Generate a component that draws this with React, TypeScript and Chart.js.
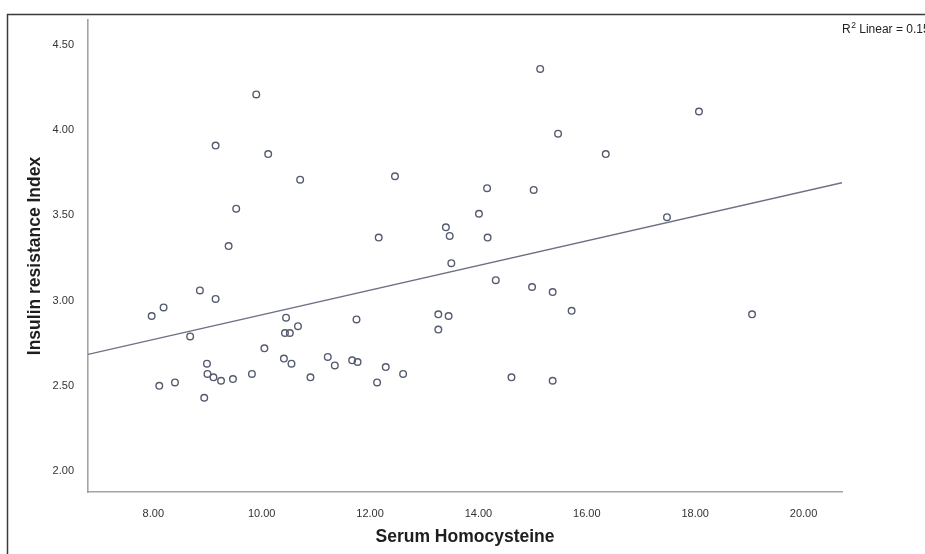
import React, { useEffect, useRef } from "react";
import { Chart, registerables } from "chart.js";

Chart.register(...registerables);

// Serum homocysteine (x) and insulin resistance index (y)
const homocysteine = [
  9.90, 9.15, 10.12, 10.71, 9.53, 9.39, 15.14, 15.47, 16.35, 12.46,
  14.16, 15.02, 14.01, 13.40, 13.47, 14.17, 12.16, 18.07, 17.48, 7.97,
  8.19, 8.86, 9.15, 8.68, 10.45, 10.67, 10.43, 10.52, 10.05, 10.41,
  10.55, 8.99, 9.00, 9.11, 9.25, 9.47, 9.82, 8.11, 8.40, 8.94,
  10.90, 13.50, 14.32, 14.99, 15.37, 15.72, 11.75, 13.26, 13.45, 13.26,
  11.22, 11.35, 11.67, 11.77, 12.29, 12.61, 12.13, 14.61, 15.37, 19.05,
];
const insulinIndex = [
  4.21, 3.91, 3.86, 3.71, 3.54, 3.32, 4.36, 3.98, 3.86, 3.73,
  3.66, 3.65, 3.51, 3.43, 3.38, 3.37, 3.37, 4.11, 3.49, 2.91,
  2.96, 3.06, 3.01, 2.79, 2.90, 2.85, 2.81, 2.81, 2.72, 2.66,
  2.63, 2.63, 2.57, 2.55, 2.53, 2.54, 2.57, 2.50, 2.52, 2.43,
  2.55, 3.22, 3.12, 3.08, 3.05, 2.94, 2.89, 2.92, 2.91, 2.83,
  2.67, 2.62, 2.65, 2.64, 2.61, 2.57, 2.52, 2.55, 2.53, 2.92,
];

// Fit line end points as drawn in the picture
const fitX = [6.795, 20.71];
const fitY = [2.685, 3.692];

const xTickValues = [8, 10, 12, 14, 16, 18, 20];
const yTickValues = [2.0, 2.5, 3.0, 3.5, 4.0, 4.5];
const xRange = [6.795, 20.71];
const yRange = [1.877, 4.647];

const xTitle = "Serum Homocysteine";
const yTitle = "Insulin resistance Index";
const r2Value = "0.15";

const FONT = "'Liberation Sans', Arial, Helvetica, sans-serif";

export default function App() {
  const canvasRef = useRef<HTMLCanvasElement | null>(null);

  useEffect(() => {
    const canvas = canvasRef.current;
    if (!canvas) return;

    const decor = {
      id: "decor",
      beforeDraw(chart: any) {
        const ctx = chart.ctx;
        ctx.save();
        ctx.fillStyle = "#ffffff";
        ctx.fillRect(0, 0, chart.width, chart.height);
        ctx.restore();
      },
      afterDraw(chart: any) {
        const ctx = chart.ctx;
        ctx.save();
        // outer frame
        ctx.strokeStyle = "#3a3a3a";
        ctx.lineWidth = 1.5;
        ctx.strokeRect(7.5, 14.5, 1200, 800);
        // R² label
        const area = chart.chartArea;
        let x = area.right;
        const y = 29.5;
        ctx.fillStyle = "#222222";
        ctx.textBaseline = "middle";
        ctx.textAlign = "left";
        ctx.font = `12px ${FONT}`;
        ctx.fillText("R", x, y);
        x += ctx.measureText("R").width;
        ctx.font = `8.5px ${FONT}`;
        ctx.fillText("2", x + 0.5, y - 4);
        x += ctx.measureText("2").width + 0.5;
        ctx.font = `12px ${FONT}`;
        ctx.fillText(" Linear = " + r2Value, x, y);
        ctx.restore();
      },
    };

    const chart = new Chart(canvas, {
      type: "scatter",
      data: {
        datasets: [
          {
            type: "line",
            label: "Fit",
            data: fitX.map((v, i) => ({ x: v, y: fitY[i] })),
            borderColor: "#6b7085",
            borderWidth: 1.3,
            pointRadius: 0,
            fill: false,
          } as any,
          {
            label: "Points",
            data: homocysteine.map((v, i) => ({ x: v, y: insulinIndex[i] })),
            pointRadius: 3.3,
            pointBorderWidth: 1.4,
            pointBorderColor: "#555b6e",
            pointBackgroundColor: "rgba(255,255,255,0)",
            showLine: false,
          },
        ],
      },
      options: {
        responsive: false,
        animation: false,
        layout: { padding: { left: 0, top: 20, right: 83, bottom: 0 } },
        plugins: {
          legend: { display: false },
          tooltip: { enabled: false },
        },
        scales: {
          x: {
            type: "linear",
            min: xRange[0],
            max: xRange[1],
            grid: { display: false },
            border: { display: true, color: "#a3a3a3", width: 1.6 },
            afterBuildTicks: (scale: any) => {
              scale.ticks = xTickValues.map((v) => ({ value: v }));
            },
            afterFit: (scale: any) => {
              scale.height = 62;
            },
            ticks: {
              padding: 7,
              color: "#333333",
              font: { size: 11, family: FONT },
              maxRotation: 0,
              callback: (v: any) => Number(v).toFixed(2),
            },
            title: {
              display: true,
              text: xTitle,
              color: "#1e1e1e",
              font: { size: 17.5, weight: "bold", family: FONT },
              padding: { top: 0, bottom: 6 },
            },
          },
          y: {
            type: "linear",
            min: yRange[0],
            max: yRange[1],
            grid: { display: false },
            border: { display: true, color: "#a3a3a3", width: 1.6 },
            afterBuildTicks: (scale: any) => {
              scale.ticks = yTickValues.map((v) => ({ value: v }));
            },
            afterFit: (scale: any) => {
              scale.width = 88;
            },
            ticks: {
              padding: 6,
              color: "#333333",
              font: { size: 11, family: FONT },
              callback: (v: any) => Number(v).toFixed(2),
            },
            title: {
              display: true,
              text: yTitle,
              color: "#1e1e1e",
              font: { size: 17.5, weight: "bold", family: FONT },
              padding: { top: 25, bottom: 0 },
            },
          },
        },
      },
      plugins: [decor],
    } as any);

    return () => chart.destroy();
  }, []);

  return (
    <div style={{ position: "absolute", left: 0, top: 0, width: 925, height: 554, background: "#ffffff" }}>
      <canvas ref={canvasRef} width={925} height={554} style={{ width: 925, height: 554, display: "block" }} />
    </div>
  );
}
